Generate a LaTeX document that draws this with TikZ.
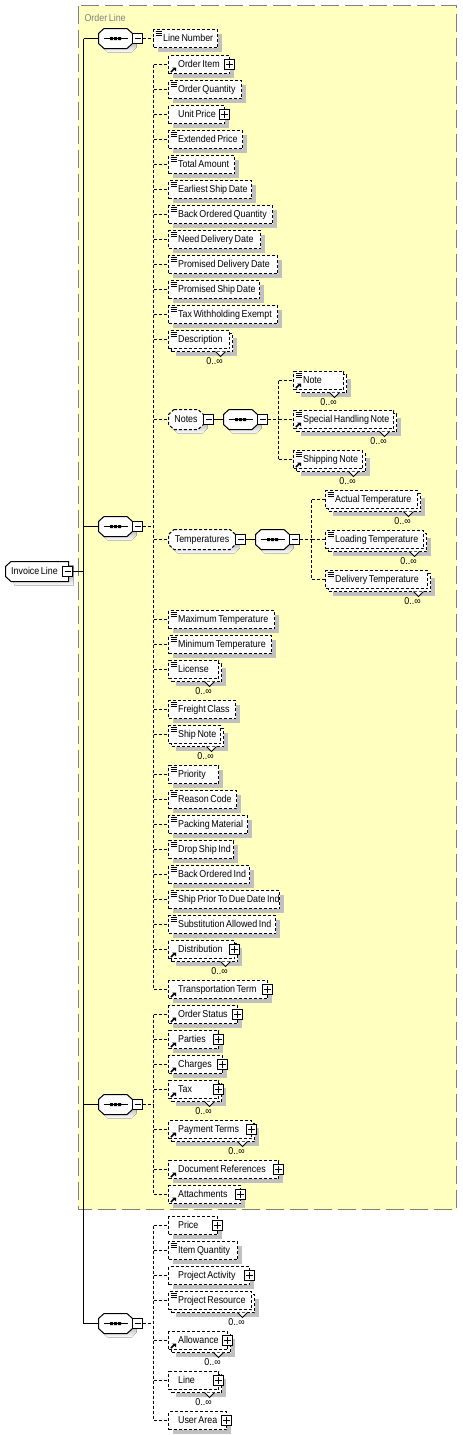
\documentclass[tikz,border=0pt]{standalone}
\usepackage{fontspec}
\setmainfont[FakeStretch=0.89]{Liberation Sans}
\usetikzlibrary{shadows}
\newdimen\px \px=0.75pt
\definecolor{panel}{HTML}{FFFFC0}
\definecolor{shade}{HTML}{C0C0C0}
\definecolor{panelline}{HTML}{808080}
\def\g{\kern1.6\px}
\tikzset{
  x=0.75pt,y=-0.75pt,
  every node/.style={font=\fontsize{7.5pt}{9pt}\selectfont,inner sep=0pt,outer sep=0pt},
  boxshadow/.style={drop shadow={shadow xshift=4\px,shadow yshift=-4\px,fill=shade,opacity=1}},
  dashline/.style={line width=1\px,dash pattern=on 3\px off 2\px},
  solidline/.style={line width=1\px},
  elbox/.style={draw=black,fill=white,dashline,minimum height=18\px,anchor=west,align=left,text height=7.5\px,text depth=2.5\px},
  backbox/.style={draw=black,fill=white,dashline,minimum height=18\px,anchor=west,boxshadow},
  octlabel/.style={rectangle,minimum height=20\px,text height=7.5\px,text depth=2.5\px},
  ctlbox/.style={rectangle,draw=black,fill=white,solidline,minimum width=10\px,minimum height=10\px},
  minusbox/.style={ctlbox,path picture={\draw[solidline] ([xshift=2\px]path picture bounding box.west) -- ([xshift=-2\px]path picture bounding box.east);}},
  plusbox/.style={ctlbox,path picture={\draw[solidline] ([xshift=1.5\px]path picture bounding box.west) -- ([xshift=-1.5\px]path picture bounding box.east) ([yshift=-1.5\px]path picture bounding box.north) -- ([yshift=1.5\px]path picture bounding box.south);}},
  occlabel/.style={text height=7\px,text depth=1\px},
}
% outline of an eight-cornered box: left, cy, right
\def\octpath#1#2#3{(#1+5.5,#2-10) -- (#3-5.5,#2-10) -- (#3,#2-5) -- (#3,#2+5) -- (#3-5.5,#2+10) -- (#1+5.5,#2+10) -- (#1,#2+5) -- (#1,#2-5) -- cycle}
% eight-cornered element: name, left, cy, right, text, line style, minus-box centre
\newcommand\octel[7]{%
  \pgfmathsetmacro\bw{#4-#2}\pgfmathsetmacro\mid{(#2+#4)/2}%
  \fill[shade,shift={(4,4)}] \octpath{#2}{#3}{#4};
  \draw[fill=white,#6] \octpath{#2}{#3}{#4};
  \node[octlabel,minimum width=\bw\px] (#1) at (\mid,#3) {#5};
  \node[minusbox] (#1-m) at (#7,#3) {};}
% a plain element: name, left, cy, right, text, flags
\newcommand\el[6]{%
  \pgfmathsetmacro\bw{#4-#2}%
  \def\cur{#1}%
  \node[elbox,boxshadow,text width=\bw\px] (#1) at (#2,#3) {\hspace*{9.6\px}#5};%
  #6}
% a repeating element: a second outline stands behind the front one
\newcommand\elm[6]{%
  \pgfmathsetmacro\bw{#4-#2}%
  \pgfmathsetmacro\bkx{#2+3}\pgfmathsetmacro\bky{#3+3}%
  \def\cur{#1}%
  \node[backbox,minimum width=\bw\px] (#1-b) at (\bkx,\bky) {};%
  \node[elbox,text width=\bw\px] (#1) at (#2,#3) {\hspace*{9.6\px}#5};%
  #6}
\newcommand\iL{%
  \draw[solidline] ([shift={(2\px,-1.5\px)}]\cur.north west) -- ++(6\px,0pt)
    ([shift={(2\px,-3.5\px)}]\cur.north west) -- ++(6\px,0pt)
    ([shift={(2\px,-5.5\px)}]\cur.north west) -- ++(6\px,0pt);}
\newcommand\iA{%
  \draw[line width=1.5\px] ([shift={(2.5\px,1.5\px)}]\cur.south west) -- ++(3\px,3\px);
  \fill ([shift={(7.5\px,6\px)}]\cur.south west) -- ++(-3.8\px,0pt) -- ++(3.8\px,-3.8\px) -- cycle;}
\newcommand\pl{\node[plusbox] (\cur-p) at (\cur.east) {};}
\newcommand\occ{%
  \draw[solidline,fill=white] ([xshift=-17\px]\cur-b.south east) -- ++(5\px,-5\px) -- ++(5\px,5\px);
  \node[occlabel] (\cur-occ) at ([shift={(-18\px,-9.5\px)}]\cur-b.south east) {0..∞};}
% compositor: name, left, cy
\newcommand\seqn[3]{%
  \pgfmathsetmacro\mnx{#2+39}%
  \octel{#1}{#2}{#3}{#2+34}{}{solidline}{\mnx}
  \draw[solidline] ([xshift=5\px]#1.west) -- ([xshift=-5\px]#1.east);
  \fill ([shift={(-5.5\px,-1.5\px)}]#1.center) rectangle ++(3\px,3\px)
        ([shift={(-1.5\px,-1.5\px)}]#1.center) rectangle ++(3\px,3\px)
        ([shift={(2.5\px,-1.5\px)}]#1.center) rectangle ++(3\px,3\px);}
% branch from a bus to an element
\newcommand\br[2]{\draw[dashline] (#1 |- #2.west) -- (#2.west);}
\begin{document}
\begin{tikzpicture}
\useasboundingbox (0,0) rectangle (462,1435);
\fill[white] (0,0) rectangle (462,1435);
\begin{scope}[shift={(0.5,0.5)}]
\draw[fill=panel,draw=panelline,line width=1\px,dash pattern=on 18\px off 6\px] (77.5,5) rectangle (456,1209);
\node[text=panelline,anchor=west] (title) at (84,17) {Order\g Line};

\coordinate (trunk) at (83,0);
\coordinate (bus2) at (153,0);
\coordinate (bus3) at (153,0);
\coordinate (bus4) at (153,0);
\coordinate (busN) at (278,0);
\coordinate (busT) at (311,0);

% root
\fill[shade] (9.5+5.5-5.5,565+0) -- (9,575) -- (14.5,585) -- (73,585) -- (73,565) -- cycle;
\draw[solidline,fill=white] (10.5,561) -- (68,561) -- (68,581) -- (10.5,581) -- (5,576) -- (5,566) -- cycle;
\node[octlabel,minimum width=63\px] (InvoiceLine) at (36.5,571) {\hspace*{-5\px}Invoice\g Line};
\node[minusbox] (InvoiceLine-m) at (67,571) {};

\seqn{seqA}{98}{38}
\seqn{seqB}{98}{526}
\seqn{seqC}{98}{1104}
\seqn{seqD}{98}{1323}

% first sequence
\el{LineNumber}{153}{38}{217}{Line\g Number}{\iL}

% second sequence
\el{OrderItem}{168}{64}{229}{Order\g Item}{\iA\pl}
\el{OrderQuantity}{168}{89}{241}{Order\g Quantity}{\iL}
\el{UnitPrice}{168}{114}{224}{Unit\g Price}{\pl}
\el{ExtendedPrice}{168}{139}{242}{Extended\g Price}{\iL}
\el{TotalAmount}{168}{164}{234}{Total\g Amount}{\iL}
\el{EarliestShipDate}{168}{189}{251}{Earliest\g Ship\g Date}{\iL}
\el{BackOrderedQuantity}{168}{214}{272}{Back\g Ordered\g Quantity}{\iL}
\el{NeedDeliveryDate}{168}{239}{260}{Need\g Delivery\g Date}{\iL}
\el{PromisedDeliveryDate}{168}{264}{277}{Promised\g Delivery\g Date}{\iL}
\el{PromisedShipDate}{168}{289}{259}{Promised\g Ship\g Date}{\iL}
\el{TaxWithholdingExempt}{168}{314}{277}{Tax\g Withholding\g Exempt}{\iL}
\elm{Description}{168}{339}{229}{Description}{\iL\occ}

\octel{Notes}{168}{419}{203}{Notes}{dashline}{208}
\seqn{seqN}{223}{419}
\elm{Note}{293}{380}{343}{Note}{\iL\iA\occ}
\elm{SpecialHandlingNote}{293}{419}{393}{Special\g Handling\g Note}{\iL\iA\occ}
\elm{ShippingNote}{293}{459}{362}{Shipping\g Note}{\iL\iA\occ}

\octel{Temperatures}{168}{539}{235}{Temperatures}{dashline}{240}
\seqn{seqT}{255}{539}
\elm{ActualTemperature}{325}{499}{417}{Actual\g Temperature}{\iL\occ}
\elm{LoadingTemperature}{325}{539}{423}{Loading\g Temperature}{\iL\occ}
\elm{DeliveryTemperature}{325}{579}{427}{Delivery\g Temperature}{\iL\occ}

\el{MaximumTemperature}{168}{619}{274}{Maximum\g Temperature}{\iL}
\el{MinimumTemperature}{168}{644}{271}{Minimum\g Temperature}{\iL}
\elm{License}{168}{669}{218}{License}{\iL\occ}
\el{FreightClass}{168}{709}{235}{Freight\g Class}{\iL}
\elm{ShipNote}{168}{734}{220}{Ship\g Note}{\iL\occ}
\el{Priority}{168}{774}{218}{Priority}{\iL}
\el{ReasonCode}{168}{799}{236}{Reason\g Code}{\iL}
\el{PackingMaterial}{168}{824}{247}{Packing\g Material}{\iL}
\el{DropShipInd}{168}{849}{233}{Drop\g Ship\g Ind}{\iL}
\el{BackOrderedInd}{168}{874}{249}{Back\g Ordered\g Ind}{\iL}
\el{ShipPriorToDueDateInd}{168}{899}{279}{Ship\g Prior\g To\g Due\g Date\g Ind}{\iL}
\el{SubstitutionAllowedInd}{168}{924}{275}{Substitution\g Allowed\g Ind}{\iL}
\elm{Distribution}{168}{949}{234}{Distribution}{\iA\pl\occ}
\el{TransportationTerm}{168}{989}{267}{Transportation\g Term}{\iA\pl}

% third sequence
\el{OrderStatus}{168}{1014}{237}{Order\g Status}{\iA\pl}
\el{Parties}{168}{1039}{218}{Parties}{\iA\pl}
\el{Charges}{168}{1064}{222}{Charges}{\iA\pl}
\elm{Tax}{168}{1089}{218}{Tax}{\iA\pl\occ}
\elm{PaymentTerms}{168}{1129}{251}{Payment\g Terms}{\iA\pl\occ}
\el{DocumentReferences}{168}{1169}{278}{Document\g References}{\iA\pl}
\el{Attachments}{168}{1194}{240}{Attachments}{\iA\pl}

% fourth sequence
\el{Price}{168}{1225}{217}{Price}{\pl}
\el{ItemQuantity}{168}{1250}{237}{Item\g Quantity}{\iL}
\el{ProjectActivity}{168}{1275}{249}{Project\g Activity}{\pl}
\elm{ProjectResource}{168}{1300}{251}{Project\g Resource}{\iL\occ}
\elm{Allowance}{168}{1340}{227}{Allowance}{\iA\pl\occ}
\elm{Line}{168}{1380}{218}{Line}{\pl\occ}
\el{UserArea}{168}{1420}{226}{User\g Area}{\pl}

% solid connectors
\draw[solidline] (trunk |- seqA.west) -- (trunk |- seqD.west);
\draw[solidline] (InvoiceLine-m.east) -- (trunk |- InvoiceLine-m.east);
\foreach \sq in {seqA,seqB,seqC,seqD} {\draw[solidline] (trunk |- \sq.west) -- (\sq.west);}
\draw[solidline] (Notes-m.east) -- (seqN.west);
\draw[solidline] (Temperatures-m.east) -- (seqT.west);

% dashed connectors
\draw[dashline] (seqA-m.east) -- (LineNumber.west);
\draw[dashline] (seqB-m.east) -- (bus2 |- seqB-m.east);
\draw[dashline] (seqC-m.east) -- (bus3 |- seqC-m.east);
\draw[dashline] (seqD-m.east) -- (bus4 |- seqD-m.east);
\draw[dashline] (bus2 |- OrderItem.west) -- (bus2 |- TransportationTerm.west);
\draw[dashline] (bus3 |- OrderStatus.west) -- (bus3 |- Attachments.west);
\draw[dashline] (bus4 |- Price.west) -- (bus4 |- UserArea.west);
\foreach \tgt in {OrderItem,OrderQuantity,UnitPrice,ExtendedPrice,TotalAmount,EarliestShipDate,BackOrderedQuantity,NeedDeliveryDate,PromisedDeliveryDate,PromisedShipDate,TaxWithholdingExempt,Description,Notes,Temperatures,MaximumTemperature,MinimumTemperature,License,FreightClass,ShipNote,Priority,ReasonCode,PackingMaterial,DropShipInd,BackOrderedInd,ShipPriorToDueDateInd,SubstitutionAllowedInd,Distribution,TransportationTerm} {\br{bus2}{\tgt}}
\foreach \tgt in {OrderStatus,Parties,Charges,Tax,PaymentTerms,DocumentReferences,Attachments} {\br{bus3}{\tgt}}
\foreach \tgt in {Price,ItemQuantity,ProjectActivity,ProjectResource,Allowance,Line,UserArea} {\br{bus4}{\tgt}}
\draw[dashline] (seqN-m.east) -- (busN |- seqN-m.east);
\draw[dashline] (busN |- Note.west) -- (busN |- ShippingNote.west);
\foreach \tgt in {Note,SpecialHandlingNote,ShippingNote} {\br{busN}{\tgt}}
\draw[dashline] (seqT-m.east) -- (busT |- seqT-m.east);
\draw[dashline] (busT |- ActualTemperature.west) -- (busT |- DeliveryTemperature.west);
\foreach \tgt in {ActualTemperature,LoadingTemperature,DeliveryTemperature} {\br{busT}{\tgt}}
\end{scope}
\end{tikzpicture}
\end{document}
